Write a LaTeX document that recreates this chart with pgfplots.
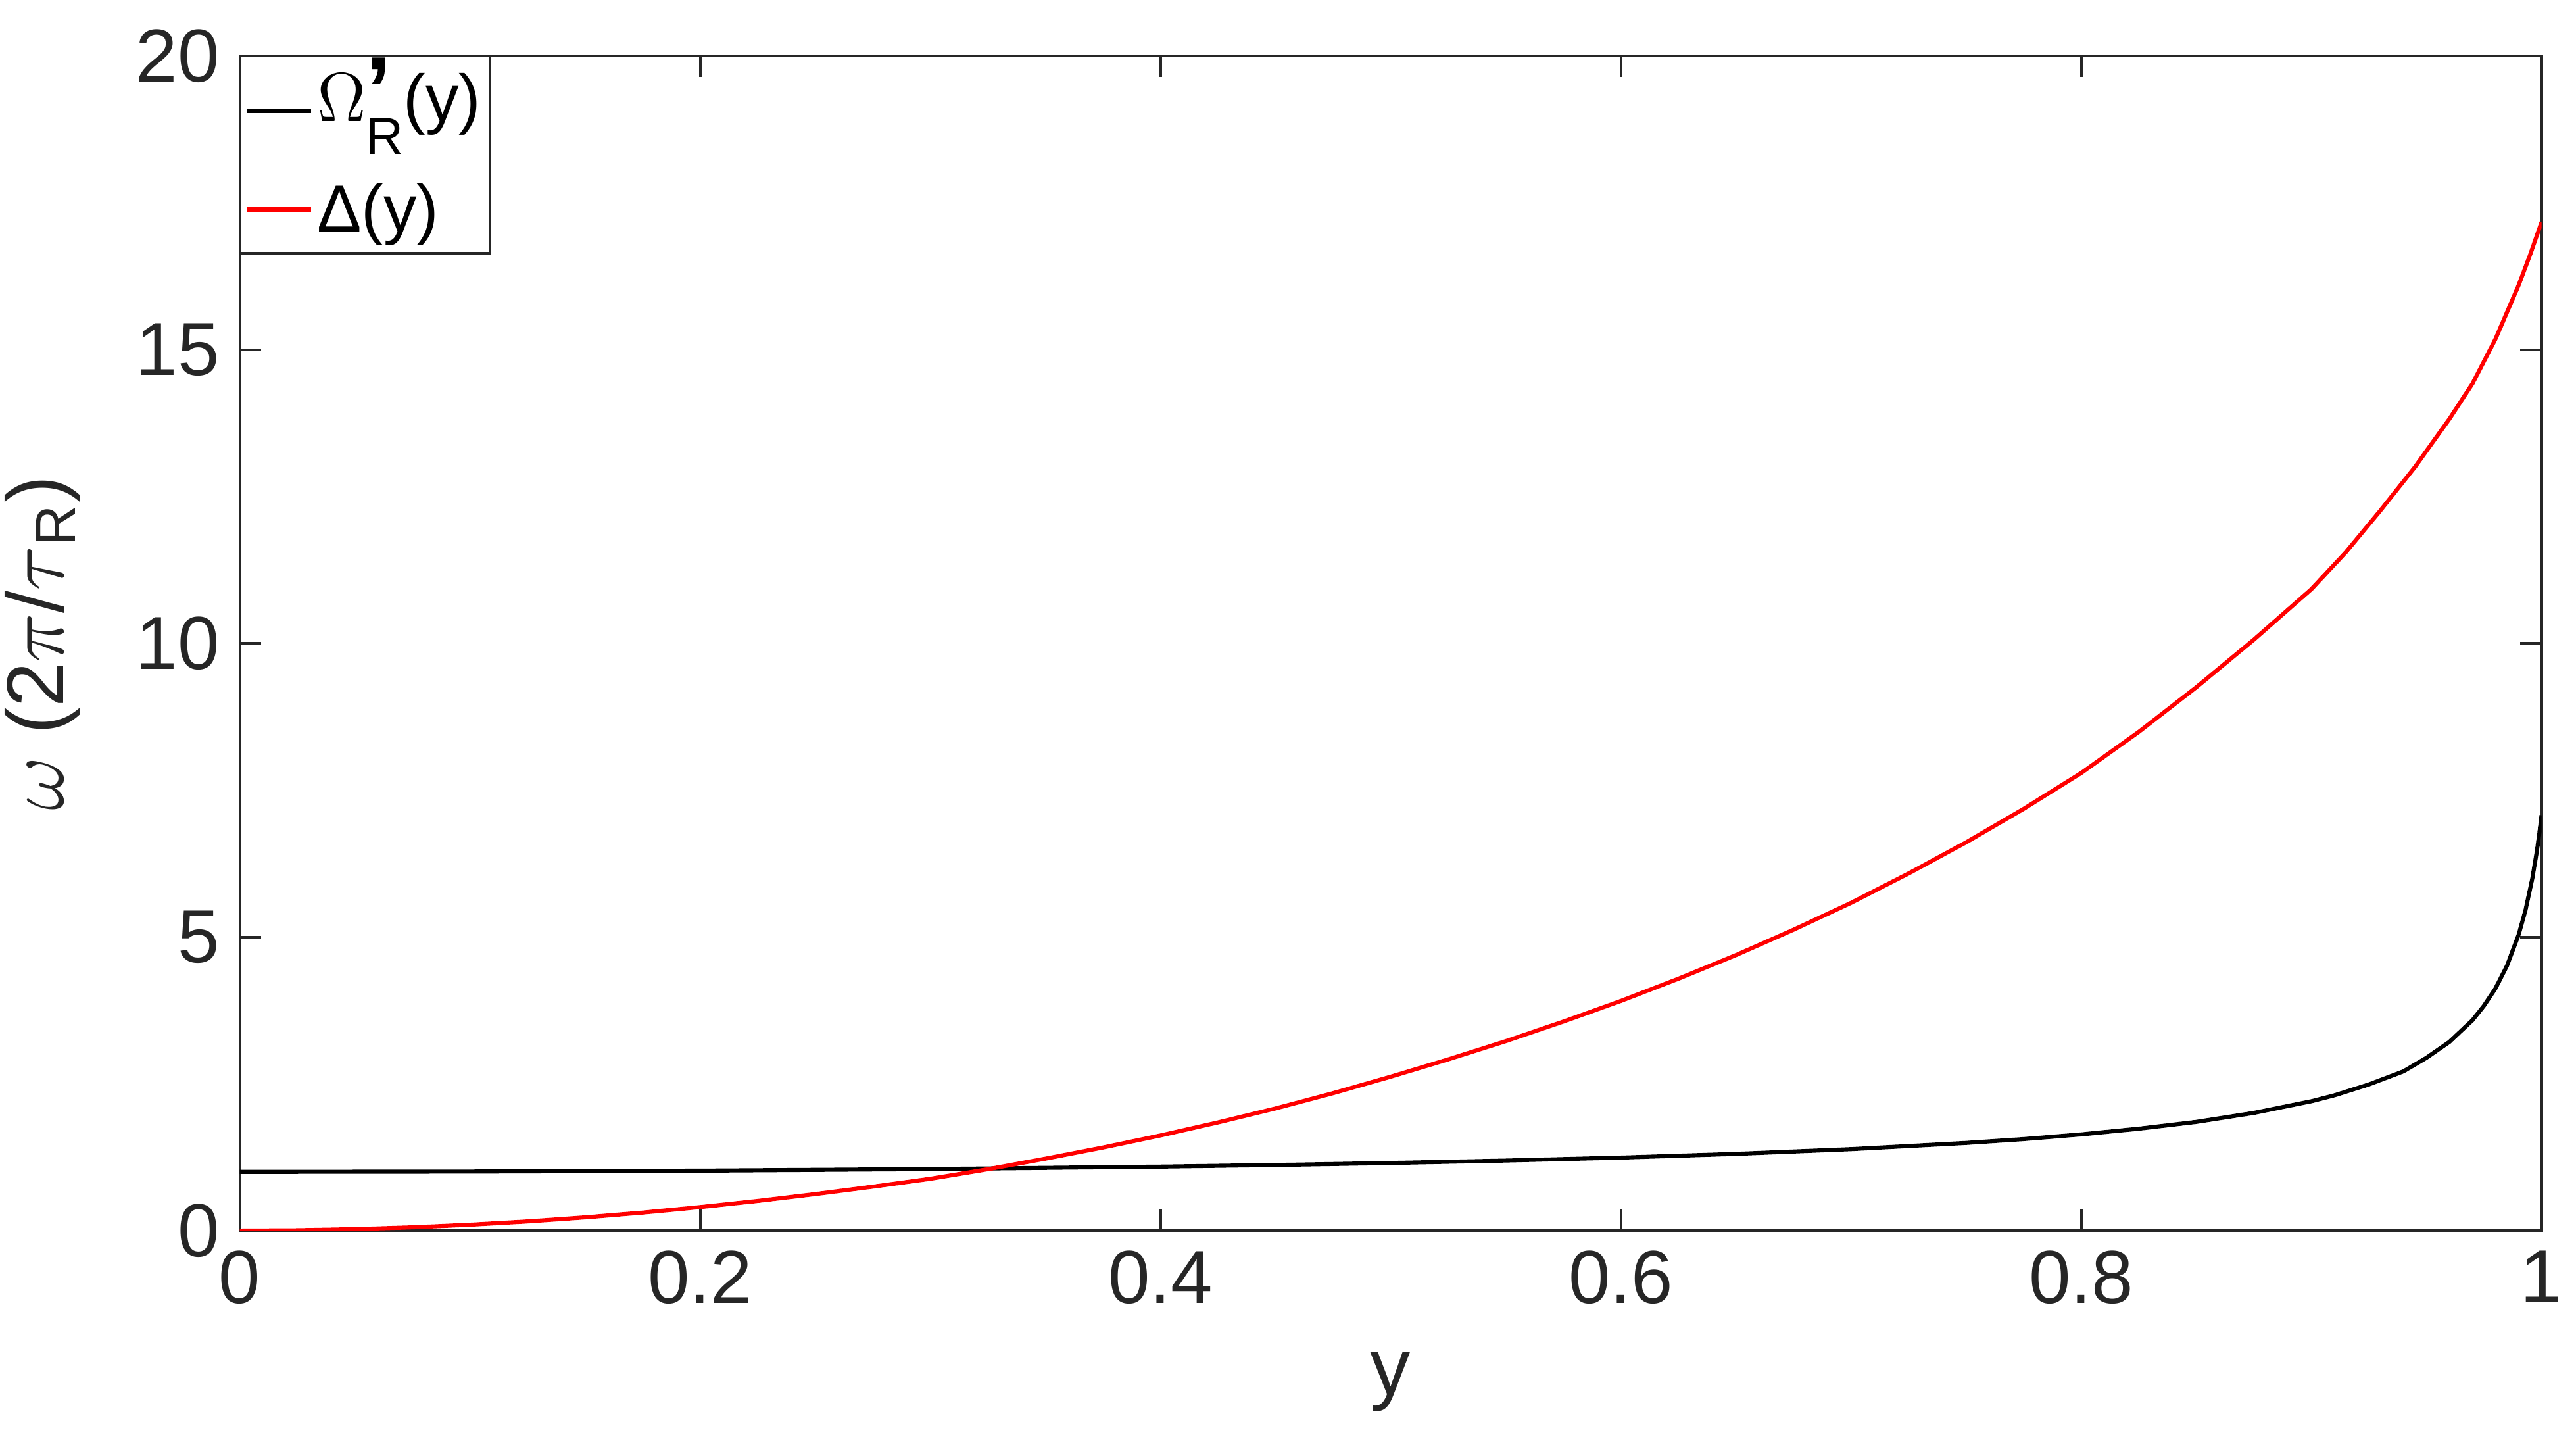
\documentclass[border=0pt]{standalone}
\usepackage{fontspec}
\setmainfont{Liberation Sans}
\usepackage{pgfplots}
\pgfplotsset{compat=1.18}

\definecolor{axgray}{gray}{0.15}
% short legend line, centred in its cell
\pgfplotsset{limg/.style={legend image code/.code={%
  \path[draw=none, fill=none] (0mm,-#1) rectangle (3.9mm,#1);
  \draw[##1] (0mm,0mm) -- (3.9mm,0mm);}}}

% Omega'_R(y): black, Delta(y): red
\pgfplotstableread{
y      om
0.000  1.0000
0.100  1.0049
0.200  1.0202
0.300  1.0473
0.400  1.0890
0.450  1.1168
0.500  1.1509
0.550  1.1927
0.600  1.2430
0.650  1.3064
0.700  1.3870
0.750  1.4928
0.775  1.5580
0.800  1.6378
0.825  1.7344
0.850  1.8507
0.875  2.0036
0.900  2.2022
0.910  2.3030
0.925  2.4885
0.940  2.7110
0.950  2.9418
0.960  3.2136
0.970  3.5825
0.975  3.8290
0.980  4.1237
0.985  4.5093
0.990  5.0314
0.993  5.4505
0.996  5.9949
0.998  6.4668
0.999  6.7500
1.000  7.0711
}\omtab

\pgfplotstableread{
y      de
0.000  0.000
0.025  0.006
0.050  0.025
0.075  0.056
0.100  0.100
0.125  0.156
0.150  0.225
0.175  0.306
0.200  0.400
0.225  0.505
0.250  0.622
0.275  0.748
0.300  0.882
0.325  1.045
0.350  1.225
0.375  1.415
0.400  1.620
0.425  1.842
0.450  2.080
0.475  2.340
0.500  2.620
0.525  2.915
0.550  3.225
0.575  3.558
0.600  3.910
0.625  4.288
0.650  4.690
0.675  5.122
0.700  5.580
0.725  6.080
0.750  6.610
0.775  7.180
0.800  7.790
0.825  8.490
0.850  9.250
0.875  10.060
0.900  10.920
0.915  11.550
0.930  12.260
0.945  13.000
0.960  13.820
0.970  14.420
0.980  15.180
0.990  16.090
0.995  16.610
1.000  17.170
}\detab

\begin{document}
\begin{tikzpicture}
\useasboundingbox (-14.6mm,-12.8mm) rectangle (142.2mm,74.9mm);
\begin{axis}[
at={(0,0)}, anchor=south west,
scale only axis,
width=140.1mm, height=71.5mm,
xmin=0, xmax=1, ymin=0, ymax=20,
xtick={0,0.2,...,1}, ytick={0,5,...,20},
xticklabels={0,0.2,0.4,0.6,0.8,1},
tick align=inside,
major tick length=1.3mm,
axis line style={axgray, line width=0.45pt},
every tick/.style={axgray, line width=0.45pt},
ticklabel style={font=\fontsize{13}{15}\selectfont, text=axgray},
/pgf/number format/assume math mode=true,
xlabel={y},
ylabel={$\omega$ (2$\pi$/$\tau$\textsubscript{R})},
label style={font=\fontsize{14}{16}\selectfont, text=axgray},
xlabel style={yshift=-0.5mm},
ylabel style={yshift=1mm},
legend cell align=left,
legend style={at={(0,1)}, anchor=north west,
  draw=axgray, line width=0.45pt, inner xsep=0.3mm, inner ysep=0mm, outer sep=0pt,
  font=\fontsize{11.5}{13}\selectfont, row sep=0pt, column sep=0pt,
  nodes={inner xsep=0.25mm, inner ysep=0.1mm, text height=3.9mm}},
]
\addplot[black, line width=0.7pt, limg=1mm] table[x=y, y=om] {\omtab};
\addlegendentry[text depth=2.6mm]{$\Omega$\rlap{\raisebox{0mm}{\fontsize{16}{16}\selectfont\bfseries ’}}\raisebox{-2mm}{\fontsize{9}{9}\selectfont R}(y)}
\addplot[red, line width=0.7pt, limg=1mm] table[x=y, y=de] {\detab};
\addlegendentry[text depth=1.2mm]{Δ(y)}
\end{axis}
\end{tikzpicture}
\end{document}
